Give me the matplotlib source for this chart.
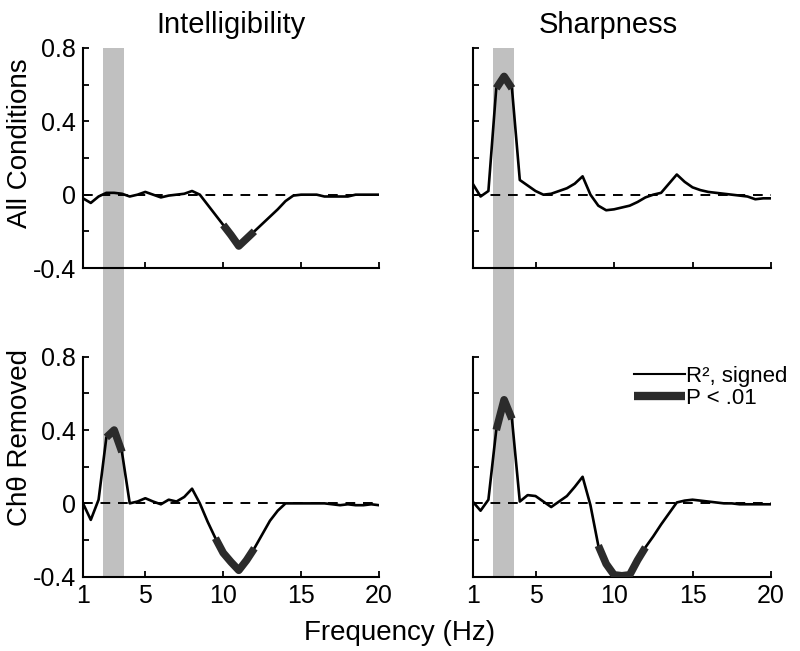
import numpy as np
import matplotlib
matplotlib.use("Agg")
import matplotlib.pyplot as plt
import matplotlib.transforms as mtransforms
from matplotlib.patches import Rectangle
from matplotlib.lines import Line2D

plt.rcParams['font.family'] = ['Liberation Sans', 'DejaVu Sans']

# ---------------- data ----------------
freq_hz = [1, 1.5, 2, 2.5, 3, 3.5, 4, 4.5, 5, 5.5, 6, 6.5, 7, 7.5, 8, 8.5, 9, 9.5,
           10, 10.5, 11, 11.5, 12, 12.5, 13, 13.5, 14, 14.5, 15, 15.5, 16, 16.5,
           17, 17.5, 18, 18.5, 19, 19.5, 20]

intel_all = [-0.02, -0.045, -0.01, 0.01, 0.01, 0.005, -0.01, 0.0, 0.015, 0.0,
             -0.015, -0.005, 0.0, 0.005, 0.02, 0.0, -0.055, -0.11, -0.165, -0.22,
             -0.28, -0.24, -0.2, -0.16, -0.12, -0.08, -0.035, -0.005, 0.0, 0.0,
             0.0, -0.01, -0.01, -0.01, -0.01, 0.0, 0.0, 0.0, 0.0]

sharp_all = [0.06, -0.01, 0.02, 0.58, 0.645, 0.58, 0.08, 0.05, 0.02, 0.0,
             0.005, 0.02, 0.035, 0.06, 0.1, 0.0, -0.06, -0.085, -0.08, -0.07,
             -0.06, -0.04, -0.015, 0.0, 0.01, 0.06, 0.11, 0.07, 0.04, 0.025,
             0.015, 0.01, 0.005, 0.0, -0.005, -0.01, -0.025, -0.02, -0.02]

intel_rem = [0.0, -0.09, 0.02, 0.36, 0.40, 0.28, 0.0, 0.01, 0.028, 0.01,
             -0.005, 0.02, 0.01, 0.035, 0.08, 0.0, -0.1, -0.19, -0.27, -0.32,
             -0.365, -0.31, -0.245, -0.17, -0.095, -0.04, 0.0, 0.0, 0.0, 0.0,
             0.0, 0.0, -0.005, -0.01, -0.005, -0.01, -0.01, -0.005, -0.01]

sharp_rem = [0.01, -0.04, 0.02, 0.40, 0.565, 0.46, 0.01, 0.045, 0.04, 0.01,
             -0.02, 0.01, 0.04, 0.09, 0.145, -0.01, -0.23, -0.33, -0.39, -0.395,
             -0.39, -0.31, -0.24, -0.18, -0.115, -0.055, 0.005, 0.015, 0.02, 0.015,
             0.01, 0.005, 0.0, 0.0, -0.005, -0.005, -0.005, -0.005, -0.005]

# significant (P < .01) frequency ranges
sig_intel_all = [(10, 12)]
sig_sharp_all = [(2.5, 3.5)]
sig_intel_rem = [(2.5, 3.5), (9.5, 12)]
sig_sharp_rem = [(2.5, 3.5), (9, 12)]

theta_band = (2.3, 3.65)

col_titles = ['Intelligibility', 'Sharpness']
row_titles = ['All Conditions', 'Ch\u03b8 Removed']
x_ticks = [1, 5, 10, 15, 20]
y_ticks = [-0.4, -0.2, 0, 0.2, 0.4, 0.6, 0.8]
y_ticklabels = ['-0.4', '', '0', '', '0.4', '', '0.8']

panels = [[(intel_all, sig_intel_all), (sharp_all, sig_sharp_all)],
          [(intel_rem, sig_intel_rem), (sharp_rem, sig_sharp_rem)]]

# ---------------- figure ----------------
W, H = 800, 651
fig = plt.figure(figsize=(W / 100, H / 100), dpi=100)

boxes = {(0, 0): (83, 48, 379, 268), (0, 1): (472.7, 48, 771, 268),
         (1, 0): (83, 356.7, 379, 576.7), (1, 1): (472.7, 356.7, 771, 576.7)}

def rect(b):
    x0, y0, x1, y1 = b
    return [x0 / W, 1 - y1 / H, (x1 - x0) / W, (y1 - y0) / H]

freq = np.array(freq_hz, dtype=float)
axes = {}
for r in range(2):
    for c in range(2):
        ax = fig.add_axes(rect(boxes[(r, c)]))
        ax.set_facecolor('none')
        axes[(r, c)] = ax
        vals, sig = panels[r][c]
        vals = np.array(vals, dtype=float)
        ax.set_xlim(1, 20)
        ax.set_ylim(-0.4, 0.8)

        if r == 0:
            # theta band spanning both rows
            top_h = boxes[(0, c)][3] - boxes[(0, c)][1]
            ext = (boxes[(1, c)][3] - boxes[(0, c)][3]) / top_h
            trans = mtransforms.blended_transform_factory(ax.transData, ax.transAxes)
            ax.add_patch(Rectangle((theta_band[0], -ext), theta_band[1] - theta_band[0],
                                   1 + ext, transform=trans, facecolor='#c0c0c0',
                                   edgecolor='none', clip_on=False, zorder=0))

        ax.axhline(0, color='black', lw=1.4, ls=(0, (5, 4)), zorder=2)
        ax.plot(freq, vals, color='black', lw=1.9, zorder=3, solid_joinstyle='round')
        mask = np.zeros(len(freq), dtype=bool)
        for lo, hi in sig:
            mask |= (freq >= lo - 1e-9) & (freq <= hi + 1e-9)
        thick = np.where(mask, vals, np.nan)
        ax.plot(freq, thick, color='#2b2b2b', lw=5.5, zorder=4,
                solid_capstyle='butt', solid_joinstyle='round')

        for s in ['top', 'right']:
            ax.spines[s].set_visible(False)
        for s in ['left', 'bottom']:
            ax.spines[s].set_linewidth(1.5)
        ax.tick_params(direction='in', length=4, width=1.3, labelsize=18, pad=5)
        ax.set_xticks(x_ticks)
        ax.set_yticks(y_ticks)
        if c == 0:
            ax.set_yticklabels(y_ticklabels)
        else:
            ax.set_yticklabels([''] * len(y_ticks))
        if r == 1:
            ax.set_xticklabels([str(t) for t in x_ticks])
        else:
            ax.set_xticklabels([''] * len(x_ticks))

# titles
fig.text(231 / W, 1 - 25 / H, col_titles[0], ha='center', va='center', fontsize=21)
fig.text(608 / W, 1 - 25 / H, col_titles[1], ha='center', va='center', fontsize=21)
fig.text(20 / W, 1 - 143 / H, row_titles[0], ha='center', va='center', rotation=90, fontsize=20)
fig.text(20 / W, 1 - 438 / H, row_titles[1], ha='center', va='center', rotation=90, fontsize=20)
fig.text(400 / W, 1 - 633 / H, 'Frequency (Hz)', ha='center', va='center', fontsize=20)

# legend
handles = [Line2D([], [], color='black', lw=1.5),
           Line2D([], [], color='#2b2b2b', lw=6, solid_capstyle='butt')]
fig.legend(handles, ['R\u00b2, signed', 'P < .01'], loc='upper left',
           bbox_to_anchor=(634 / W, 1 - 366 / H), frameon=False, fontsize=16,
           handlelength=2.3, handletextpad=0.05, borderaxespad=0, borderpad=0,
           labelspacing=0.05)

fig.savefig('out.png', dpi=100)
